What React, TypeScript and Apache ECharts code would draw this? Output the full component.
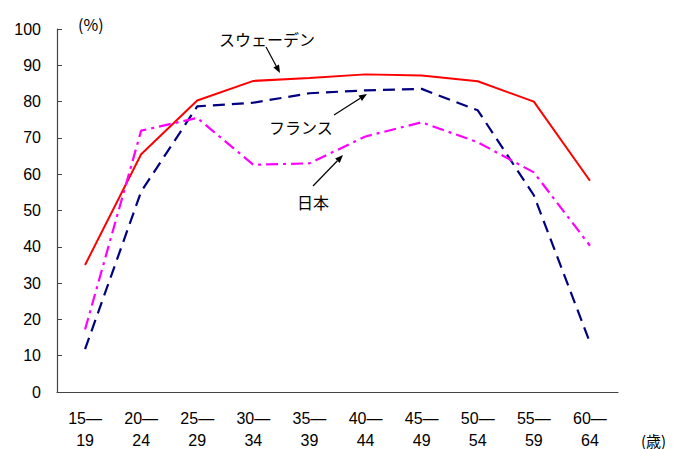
import React, { useEffect, useRef } from "react";
import * as echarts from "echarts";

const categories = ["15—\n19", "20—\n24", "25—\n29", "30—\n34", "35—\n39", "40—\n44", "45—\n49", "50—\n54", "55—\n59", "60—\n64"];
const sweden = [35, 65.5, 80.3, 85.7, 86.5, 87.5, 87.2, 85.6, 80, 58.2];
const france = [11.8, 55.2, 78.7, 79.7, 82.3, 83.1, 83.5, 77.6, 54.2, 13.6];
const japan = [17.2, 72, 75.5, 62.6, 63, 70.4, 74.3, 68.8, 60.5, 40.3];
const yTicks = { min: 0, max: 100, interval: 10 };

const JP = "'Noto Sans CJK JP', sans-serif";
const NUM = "'Liberation Sans', Arial, sans-serif";

function arrow(x1: number, y1: number, x2: number, y2: number) {
  const ang = Math.atan2(y2 - y1, x2 - x1);
  const L = 8, W = 3.2;
  const bx = x2 - L * Math.cos(ang), by = y2 - L * Math.sin(ang);
  const px = -Math.sin(ang) * W, py = Math.cos(ang) * W;
  return [
    { type: "line", shape: { x1, y1, x2: bx, y2: by }, style: { stroke: "#000", lineWidth: 1.2 } },
    { type: "polygon", shape: { points: [[x2, y2], [bx + px, by + py], [bx - px, by - py]] }, style: { fill: "#000" } },
  ];
}

export default function App() {
  const ref = useRef<HTMLDivElement>(null);
  useEffect(() => {
    const chart = echarts.init(ref.current!, undefined, { renderer: "svg" });
    chart.setOption({
      animation: false,
      backgroundColor: "#fff",
      grid: { left: 57, right: 58, top: 29, bottom: 57, containLabel: false, outerBoundsMode: "none" },
      xAxis: {
        type: "category",
        data: categories,
        boundaryGap: true,
        axisLine: { lineStyle: { color: "#444", width: 1.2 } },
        axisTick: { inside: true, length: 5, interval: 0, lineStyle: { color: "#444" } },
        axisLabel: { interval: 0, margin: 15, color: "#000", fontSize: 16, lineHeight: 22, fontFamily: NUM },
      },
      yAxis: {
        type: "value",
        min: yTicks.min,
        max: yTicks.max,
        interval: yTicks.interval,
        splitLine: { show: false },
        axisLine: { show: true, lineStyle: { color: "#444", width: 1.2 } },
        axisTick: { show: true, inside: true, length: 5, lineStyle: { color: "#444" } },
        axisLabel: { color: "#000", fontSize: 16, margin: 16, fontFamily: NUM },
      },
      series: [
        { name: "スウェーデン", type: "line", data: sweden, symbol: "none", lineStyle: { color: "#ff0000", width: 2 } },
        { name: "フランス", type: "line", data: france, symbol: "none", lineStyle: { color: "#000080", width: 2.2, type: [12, 7] } },
        { name: "日本", type: "line", data: japan, symbol: "none", lineStyle: { color: "#ff00ff", width: 2.2, type: [12, 5, 3, 5] } },
      ],
      graphic: [
        { type: "text", x: 78, y: 24, style: { text: "(%)", font: `16px ${JP}`, fill: "#000", verticalAlign: "middle", align: "left" } },
        { type: "text", x: 219, y: 39, style: { text: "スウェーデン", font: `16px ${JP}`, fill: "#000", verticalAlign: "middle" } },
        { type: "text", x: 269, y: 127, style: { text: "フランス", font: `16px ${JP}`, fill: "#000", verticalAlign: "middle" } },
        { type: "text", x: 297, y: 202, style: { text: "日本", font: `16px ${JP}`, fill: "#000", verticalAlign: "middle" } },
        { type: "text", x: 641, y: 440, style: { text: "(歳)", font: `15px ${JP}`, fill: "#000", verticalAlign: "middle" } },
        ...arrow(266, 47, 280, 73),
        ...arrow(334, 115, 367, 94),
        ...arrow(313, 186, 343, 155),
      ],
    });
    return () => chart.dispose();
  }, []);
  return <div ref={ref} style={{ width: 676, height: 449, position: "absolute", left: 0, top: 0 }} />;
}
